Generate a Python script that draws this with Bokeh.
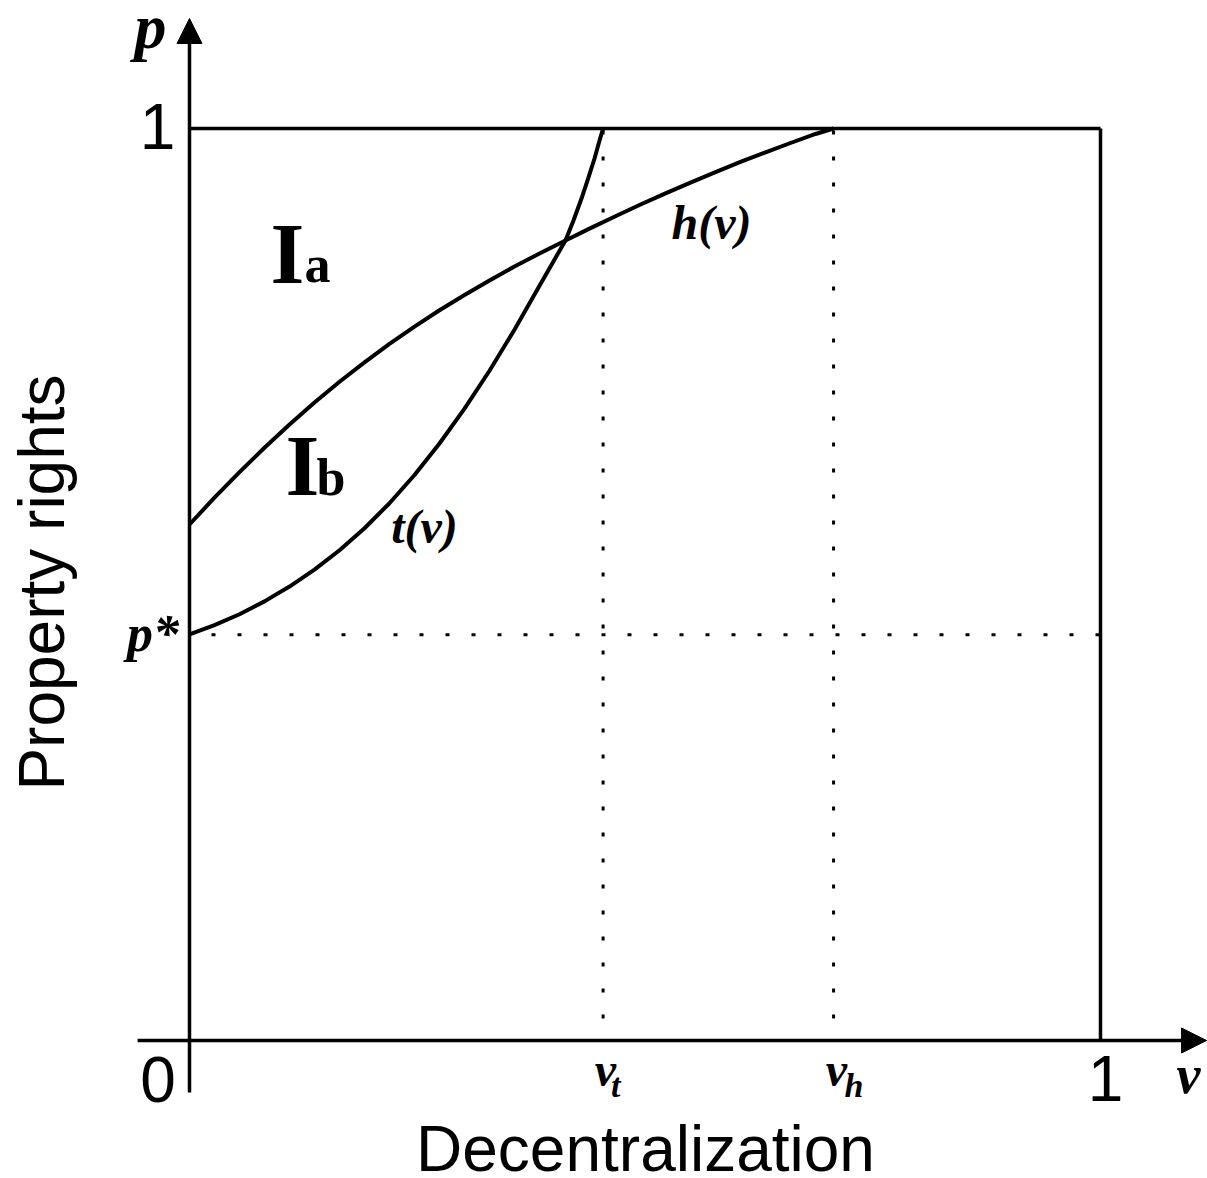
from bokeh.plotting import figure
from bokeh.models import Range1d, Arrow, NormalHead
from bokeh.core.properties import value
from bokeh.embed import file_html
from bokeh.resources import INLINE

# ---- data ----
v_t = 0.454
v_h = 0.707
p_star = 0.445

h_v = [0.0000, 0.0274, 0.0549, 0.0823, 0.1098, 0.1372, 0.1647, 0.1921, 0.2195, 0.2470,
       0.2744, 0.3019, 0.3293, 0.3567, 0.3842, 0.4127, 0.4402, 0.4676, 0.4951, 0.5225,
       0.5499, 0.5774, 0.6048, 0.6323, 0.6597, 0.6872, 0.7070]
h_p = [0.5658, 0.5952, 0.6232, 0.6500, 0.6754, 0.6996, 0.7223, 0.7436, 0.7638, 0.7828,
       0.8007, 0.8175, 0.8334, 0.8486, 0.8629, 0.8772, 0.8908, 0.9038, 0.9166, 0.9289,
       0.9407, 0.9522, 0.9633, 0.9739, 0.9841, 0.9940, 1.0000]

t_v = [0.0000, 0.0274, 0.0549, 0.0823, 0.1098, 0.1372, 0.1647, 0.1921, 0.2195, 0.2470,
       0.2744, 0.3019, 0.3293, 0.3567, 0.3842, 0.4127, 0.4215, 0.4303, 0.4380, 0.4446,
       0.4501, 0.4540]
t_p = [0.4452, 0.4554, 0.4674, 0.4815, 0.4977, 0.5163, 0.5376, 0.5617, 0.5891, 0.6201,
       0.6546, 0.6928, 0.7344, 0.7794, 0.8276, 0.8772, 0.8991, 0.9232, 0.9463, 0.9671,
       0.9868, 1.0000]

x_title = "Decentralization"
y_title = "Property rights"

SERIF = value("Liberation Serif")
SANS = value("Liberation Sans")

PX_PER_P = 912.0

p = figure(width=1207, height=1178, output_backend="svg", toolbar_location=None,
           x_range=Range1d(-0.20746, 1.11745), y_range=Range1d(-0.15132, 1.14035),
           x_axis_type=None, y_axis_type=None, min_border=0)
p.grid.visible = False
p.outline_line_color = None
p.background_fill_color = "white"
p.border_fill_color = "white"

# axes with arrows
p.add_layout(Arrow(end=NormalHead(size=25, fill_color="black", line_color="black", line_width=1),
                   x_start=-0.057, y_start=0, x_end=1.1164, y_end=0,
                   line_width=3.5, line_color="black"))
p.add_layout(Arrow(end=NormalHead(size=25, fill_color="black", line_color="black", line_width=1),
                   x_start=0, y_start=-0.057, x_end=0, y_end=1.1206,
                   line_width=3.5, line_color="black"))

# box (p = 1 and v = 1)
p.line([0, 1], [1, 1], line_width=3.5, line_color="black")
p.line([1, 1], [0, 1], line_width=3.5, line_color="black")

# dotted guides
p.line([0, 1], [p_star, p_star], line_width=3, line_color="black", line_dash="4 22", line_dash_offset=-22)
p.line([v_t, v_t], [0, 1], line_width=3, line_color="black", line_dash="4 22", line_dash_offset=-22)
p.line([v_h, v_h], [0, 1], line_width=3, line_color="black", line_dash="4 22", line_dash_offset=-22)

# curves
p.line(h_v, h_p, line_width=4, line_color="black", line_join="round")
p.line(t_v, t_p, line_width=4, line_color="black", line_join="round")

def txt(x, y, s, font, size, style="normal", align="center", angle=0.0):
    # compensate the renderer's baseline offset (~0.34 em below the anchor)
    off = 0.34 * size
    if angle == 0.0:
        y = y + off / PX_PER_P
    else:
        x = x - off / 911.0
    p.text(x=[x], y=[y], text=[s], text_font=font, text_font_size=f"{size}px",
           text_font_style=style, text_align=align, text_baseline="alphabetic",
           text_color="black", angle=angle)

# tick labels (sans)
txt(-0.0351, 0.978, "1", SANS, 64)
txt(-0.0346, -0.0669, "0", SANS, 64)
txt(1.0055, -0.0658, "1", SANS, 64)

# axis titles
txt((645 - 189) / 911, (1040 - 1170) / 912, x_title, SANS, 64)
txt((63 - 189) / 911, (1040 - 582) / 912, y_title, SANS, 64, angle=1.5707963)

# math labels (serif bold italic)
txt(-0.0428, 1.0877, "p", SERIF, 64, "bold italic")
txt(1.0966, -0.0581, "v", SERIF, 54, "bold italic")
txt(-0.0401, 0.4265, "p*", SERIF, 52, "bold italic")
txt(0.4566, -0.0493, "v", SERIF, 48, "bold italic")
txt(0.468, -0.0625, "t", SERIF, 34, "bold italic")
txt(0.710, -0.0493, "v", SERIF, 48, "bold italic")
txt(0.7294, -0.0625, "h", SERIF, 34, "bold italic")
txt(0.573, 0.879, "h(v)", SERIF, 48, "bold italic")
txt(0.258, 0.546, "t(v)", SERIF, 48, "bold italic")

# region labels
txt(0.0889, 0.831, "I", SERIF, 87, "bold", align="left")
txt(0.1262, 0.831, "a", SERIF, 52, "bold", align="left")
txt(0.1054, 0.5976, "I", SERIF, 87, "bold", align="left")
txt(0.1394, 0.5976, "b", SERIF, 52, "bold", align="left")

open("out.html", "w").write(file_html(p, INLINE))
